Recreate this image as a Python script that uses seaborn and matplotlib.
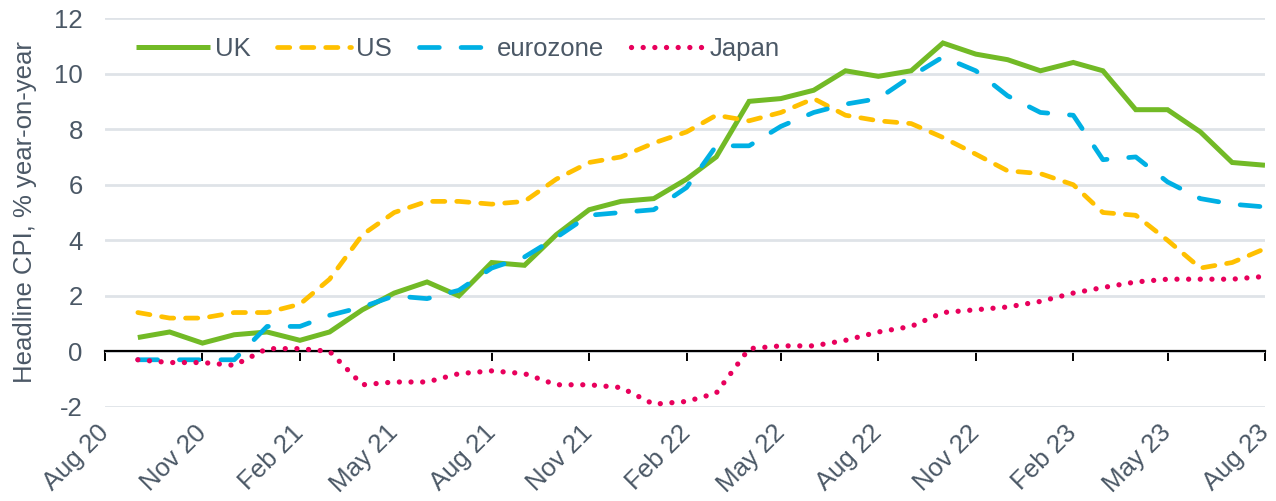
import matplotlib
matplotlib.use("Agg")
import matplotlib.pyplot as plt
import matplotlib.dates as mdates
import seaborn as sns
import pandas as pd

# ---- data (monthly, Sep 2020 - Aug 2023) ----
months = pd.date_range("2020-09-01", "2023-08-01", freq="MS")
uk = [0.5, 0.7, 0.3, 0.6, 0.7, 0.4, 0.7, 1.5, 2.1, 2.5, 2.0, 3.2,
      3.1, 4.2, 5.1, 5.4, 5.5, 6.2, 7.0, 9.0, 9.1, 9.4, 10.1, 9.9,
      10.1, 11.1, 10.7, 10.5, 10.1, 10.4, 10.1, 8.7, 8.7, 7.9, 6.8, 6.7]
us = [1.4, 1.2, 1.2, 1.4, 1.4, 1.7, 2.6, 4.2, 5.0, 5.4, 5.4, 5.3,
      5.4, 6.2, 6.8, 7.0, 7.5, 7.9, 8.5, 8.3, 8.6, 9.1, 8.5, 8.3,
      8.2, 7.7, 7.1, 6.5, 6.4, 6.0, 5.0, 4.9, 4.0, 3.0, 3.2, 3.7]
eurozone = [-0.3, -0.3, -0.3, -0.3, 0.9, 0.9, 1.3, 1.6, 2.0, 1.9, 2.2, 3.0,
            3.4, 4.1, 4.9, 5.0, 5.1, 5.9, 7.4, 7.4, 8.1, 8.6, 8.9, 9.1,
            9.9, 10.6, 10.1, 9.2, 8.6, 8.5, 6.9, 7.0, 6.1, 5.5, 5.3, 5.2]
japan = [-0.3, -0.4, -0.4, -0.5, 0.1, 0.1, 0.0, -1.2, -1.1, -1.1, -0.8, -0.7,
         -0.8, -1.2, -1.2, -1.3, -1.9, -1.8, -1.5, 0.1, 0.2, 0.2, 0.4, 0.7,
         0.9, 1.4, 1.5, 1.6, 1.8, 2.1, 2.3, 2.5, 2.6, 2.6, 2.6, 2.7]
series_names = ["UK", "US", "eurozone", "Japan"]
y_ticks = [-2, 0, 2, 4, 6, 8, 10, 12]
y_label = "Headline CPI, % year-on-year"

# ---- style ----
sns.set_theme(style="white")
plt.rcParams["font.family"] = ["Liberation Sans", "DejaVu Sans"]
plt.rcParams["axes.unicode_minus"] = False
TEXT = "#4b5866"
FS = 18.5

colors = {"UK": "#72ba26", "US": "#ffc000", "eurozone": "#00b0e4", "Japan": "#e8005c"}
lw = {"UK": 3.6, "US": 3.4, "eurozone": 3.4, "Japan": 3.8}
styles = {"UK": "-", "US": (0, (2.6, 2.5)), "eurozone": (0, (4.2, 4.6)),
          "Japan": (0, (0.01, 2.2))}

fig = plt.figure(figsize=(12.76, 5.01), dpi=100)
ax = fig.add_axes([105 / 1276, 1 - 407 / 501, 1160 / 1276, 389 / 501])

values = {"UK": uk, "US": us, "eurozone": eurozone, "Japan": japan}
for name in series_names:
    sns.lineplot(x=months, y=values[name], ax=ax, color=colors[name],
                 linewidth=lw[name], linestyle=styles[name], label=name,
                 dash_capstyle="round", solid_capstyle="butt",
                 solid_joinstyle="miter", zorder=3)

ax.set_xlim(pd.Timestamp("2020-08-01"), pd.Timestamp("2023-08-01"))
ax.set_ylim(-2, 12)
ax.set_yticks(y_ticks)
ax.set_yticklabels([str(t) for t in y_ticks])
ax.yaxis.grid(True, color="#dfe3e8", linewidth=2.0, zorder=0)
ax.xaxis.grid(False)
ax.set_axisbelow(True)

for s in ["top", "right", "left"]:
    ax.spines[s].set_visible(False)
ax.spines["bottom"].set_position(("data", 0))
ax.spines["bottom"].set_color("black")
ax.spines["bottom"].set_linewidth(1.6)
ax.spines["bottom"].set_zorder(2)

ax.xaxis.set_major_locator(mdates.MonthLocator(bymonth=[2, 5, 8, 11]))
ax.xaxis.set_major_formatter(mdates.DateFormatter("%b %y"))
ax.tick_params(axis="x", direction="out", length=7, width=1.4, color="black",
               pad=49, labelsize=FS, labelcolor=TEXT, bottom=True)
ax.tick_params(axis="y", length=0, pad=16, labelsize=FS, labelcolor=TEXT)
for lab in ax.get_xticklabels():
    lab.set_rotation(45)
    lab.set_ha("right")
    lab.set_va("center")
    lab.set_rotation_mode("anchor")

ax.set_xlabel("")
ax.set_ylabel(y_label, fontsize=FS, color=TEXT, labelpad=12)

handles, labels = ax.get_legend_handles_labels()
leg = ax.legend(handles, labels, loc="upper left", bbox_to_anchor=(0.027, 0.95),
                ncol=4, frameon=False, fontsize=FS, labelcolor=TEXT,
                handlelength=2.85, handletextpad=0.2, columnspacing=1.05,
                borderpad=0, borderaxespad=0)

fig.savefig("out.png", dpi=100)
